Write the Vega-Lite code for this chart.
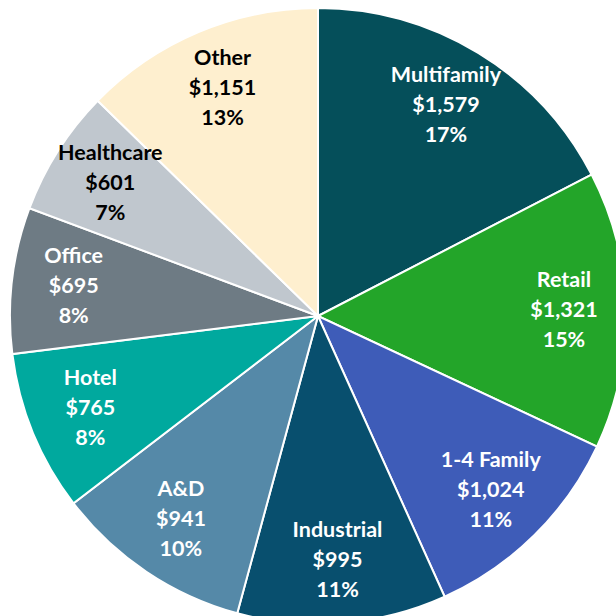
{
  "$schema": "https://vega.github.io/schema/vega-lite/v6.json",
  "width": 636,
  "height": 632,
  "padding": 0,
  "autosize": "none",
  "background": "white",
  "view": {"stroke": null},
  "data": {
    "values": [
      {"name": "Multifamily", "value": 1579, "order": 1, "label": "Multifamily\n$1,579\n17%"},
      {"name": "Retail", "value": 1321, "order": 2, "label": "Retail\n$1,321\n15%"},
      {"name": "1-4 Family", "value": 1024, "order": 3, "label": "1-4 Family\n$1,024\n11%"},
      {"name": "Industrial", "value": 995, "order": 4, "label": "Industrial\n$995\n11%"},
      {"name": "A&D", "value": 941, "order": 5, "label": "A&D\n$941\n10%"},
      {"name": "Hotel", "value": 765, "order": 6, "label": "Hotel\n$765\n8%"},
      {"name": "Office", "value": 695, "order": 7, "label": "Office\n$695\n8%"},
      {"name": "Healthcare", "value": 601, "order": 8, "label": "Healthcare\n$601\n7%"},
      {"name": "Other", "value": 1151, "order": 9, "label": "Other\n$1,151\n13%"}
    ]
  },
  "layer": [
    {
      "mark": {"type": "arc", "outerRadius": 308, "stroke": "white", "strokeWidth": 2},
      "encoding": {
        "theta": {"field": "value", "type": "quantitative", "stack": true},
        "order": {"field": "order", "type": "quantitative"},
        "color": {
          "field": "name",
          "type": "nominal",
          "legend": null,
          "scale": {
            "domain": ["Multifamily", "Retail", "1-4 Family", "Industrial", "A&D", "Hotel", "Office", "Healthcare", "Other"],
            "range": ["#054F5A", "#23A529", "#3E5CB8", "#084F6E", "#5589A8", "#00A99E", "#6E7B84", "#C0C7CE", "#FEEFCF"]
          }
        }
      }
    },
    {
      "mark": {"type": "text", "radius": 246, "dy": -30, "font": "Lato", "fontWeight": "bold", "fontSize": 21.5, "lineBreak": "\n", "lineHeight": 30, "align": "center", "baseline": "middle"},
      "encoding": {
        "theta": {"field": "value", "type": "quantitative", "stack": true},
        "order": {"field": "order", "type": "quantitative"},
        "detail": {"field": "name", "type": "nominal"},
        "text": {"field": "label", "type": "nominal"},
        "color": {
          "condition": {"test": "datum.name === 'Other' || datum.name === 'Healthcare'", "value": "#000000"},
          "value": "#FFFFFF"
        }
      }
    }
  ]
}
